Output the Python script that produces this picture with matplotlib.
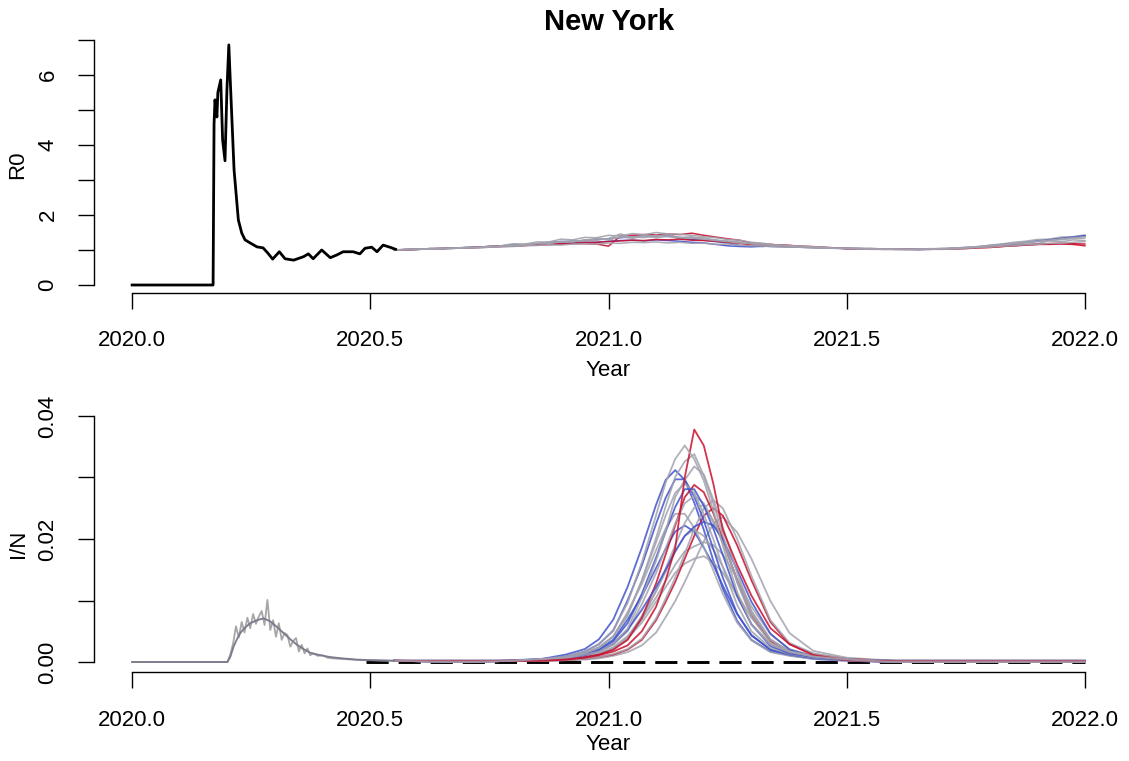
import matplotlib
matplotlib.use("Agg")
import matplotlib.pyplot as plt

plt.rcParams['font.family'] = ['Liberation Sans', 'DejaVu Sans']

# ---------------- data ----------------
title = "New York"
x_ticks = [2020.0, 2020.5, 2021.0, 2021.5, 2022.0]
x_tick_labels = ["2020.0", "2020.5", "2021.0", "2021.5", "2022.0"]
r0_ticks = [0, 1, 2, 3, 4, 5, 6, 7]
r0_tick_labels = ["0", "", "2", "", "4", "", "6", ""]
in_ticks = [0.0, 0.01, 0.02, 0.03, 0.04]
in_tick_labels = ["0.00", "", "0.02", "", "0.04"]

# estimated R0 (black)
r0_years = [2020.000, 2020.170, 2020.172, 2020.174, 2020.178, 2020.180, 2020.186,
            2020.190, 2020.195, 2020.199, 2020.203, 2020.206, 2020.214, 2020.223,
            2020.230, 2020.237, 2020.248, 2020.262, 2020.275, 2020.285, 2020.295,
            2020.309, 2020.321, 2020.339, 2020.360, 2020.370, 2020.380, 2020.398,
            2020.416, 2020.430, 2020.443, 2020.464, 2020.478, 2020.489, 2020.503,
            2020.514, 2020.527, 2020.541, 2020.553]
r0_values = [0.00, 0.00, 4.60, 5.29, 4.80, 5.50, 5.86, 4.14, 3.55, 5.57, 6.86, 5.86,
             3.29, 1.86, 1.49, 1.29, 1.20, 1.09, 1.06, 0.91, 0.74, 0.95, 0.75, 0.71,
             0.81, 0.89, 0.75, 1.00, 0.78, 0.86, 0.95, 0.95, 0.89, 1.05, 1.08, 0.95,
             1.14, 1.08, 1.02]

# projected R0 trajectories
proj_years = [2020.550, 2020.575, 2020.600, 2020.625, 2020.650, 2020.675, 2020.700, 2020.725,
              2020.750, 2020.775, 2020.800, 2020.825, 2020.850, 2020.875, 2020.900, 2020.925,
              2020.950, 2020.975, 2021.000, 2021.025, 2021.050, 2021.075, 2021.100, 2021.125,
              2021.150, 2021.175, 2021.200, 2021.225, 2021.250, 2021.275, 2021.300, 2021.325,
              2021.350, 2021.375, 2021.400, 2021.425, 2021.450, 2021.475, 2021.500, 2021.525,
              2021.550, 2021.575, 2021.600, 2021.625, 2021.650, 2021.675, 2021.700, 2021.725,
              2021.750, 2021.775, 2021.800, 2021.825, 2021.850, 2021.875, 2021.900, 2021.925,
              2021.950, 2021.975, 2022.000]
r0_grey1 = [1.00, 1.02, 1.01, 1.04, 1.05, 1.04, 1.08, 1.07, 1.11, 1.12,
            1.18, 1.17, 1.23, 1.23, 1.31, 1.29, 1.36, 1.35, 1.42, 1.40,
            1.47, 1.44, 1.50, 1.46, 1.45, 1.42, 1.38, 1.35, 1.30, 1.28,
            1.22, 1.19, 1.15, 1.13, 1.11, 1.09, 1.08, 1.06, 1.06, 1.04,
            1.05, 1.03, 1.03, 1.02, 1.03, 1.03, 1.05, 1.05, 1.08, 1.09,
            1.14, 1.17, 1.22, 1.25, 1.30, 1.31, 1.37, 1.38, 1.43]
r0_grey2 = [1.00, 1.01, 1.03, 1.02, 1.05, 1.06, 1.05, 1.09, 1.08, 1.12,
            1.11, 1.17, 1.16, 1.22, 1.21, 1.27, 1.24, 1.33, 1.29, 1.38,
            1.33, 1.40, 1.35, 1.39, 1.33, 1.35, 1.28, 1.29, 1.21, 1.22,
            1.15, 1.16, 1.11, 1.12, 1.08, 1.09, 1.06, 1.06, 1.04, 1.05,
            1.03, 1.03, 1.02, 1.03, 1.01, 1.03, 1.02, 1.05, 1.04, 1.09,
            1.08, 1.15, 1.13, 1.20, 1.18, 1.26, 1.23, 1.29, 1.27]
r0_grey3 = [1.00, 1.02, 1.02, 1.03, 1.04, 1.06, 1.06, 1.07, 1.10, 1.10,
            1.14, 1.15, 1.18, 1.19, 1.25, 1.23, 1.29, 1.28, 1.33, 1.46,
            1.36, 1.42, 1.40, 1.44, 1.36, 1.38, 1.31, 1.27, 1.24, 1.20,
            1.18, 1.15, 1.13, 1.11, 1.10, 1.08, 1.07, 1.05, 1.05, 1.04,
            1.04, 1.02, 1.02, 1.02, 1.02, 1.03, 1.04, 1.04, 1.07, 1.10,
            1.12, 1.16, 1.18, 1.22, 1.25, 1.28, 1.32, 1.35, 1.38]
r0_grey4 = [1.00, 1.01, 1.02, 1.03, 1.03, 1.05, 1.06, 1.06, 1.08, 1.09,
            1.10, 1.12, 1.13, 1.15, 1.14, 1.17, 1.18, 1.17, 1.20, 1.19,
            1.22, 1.21, 1.23, 1.20, 1.22, 1.19, 1.20, 1.16, 1.17, 1.13,
            1.12, 1.11, 1.09, 1.08, 1.08, 1.06, 1.05, 1.05, 1.04, 1.03,
            1.03, 1.02, 1.02, 1.01, 1.02, 1.02, 1.03, 1.03, 1.05, 1.07,
            1.08, 1.11, 1.12, 1.15, 1.16, 1.19, 1.19, 1.22, 1.24]
r0_grey5 = [1.00, 1.01, 1.03, 1.03, 1.05, 1.05, 1.07, 1.08, 1.09, 1.12,
            1.13, 1.14, 1.19, 1.19, 1.23, 1.24, 1.28, 1.33, 1.31, 1.36,
            1.38, 1.35, 1.42, 1.38, 1.36, 1.34, 1.35, 1.28, 1.26, 1.23,
            1.18, 1.16, 1.13, 1.13, 1.09, 1.09, 1.07, 1.05, 1.05, 1.04,
            1.03, 1.03, 1.03, 1.02, 1.02, 1.04, 1.03, 1.06, 1.07, 1.09,
            1.13, 1.14, 1.18, 1.22, 1.24, 1.27, 1.29, 1.33, 1.34]
r0_blue1 = [1.00, 1.01, 1.02, 1.04, 1.04, 1.06, 1.06, 1.08, 1.10, 1.12,
            1.15, 1.14, 1.18, 1.22, 1.24, 1.25, 1.27, 1.30, 1.32, 1.35,
            1.38, 1.41, 1.40, 1.43, 1.33, 1.30, 1.28, 1.24, 1.20, 1.13,
            1.11, 1.10, 1.14, 1.12, 1.10, 1.09, 1.07, 1.06, 1.05, 1.04,
            1.03, 1.03, 1.02, 1.02, 1.02, 1.03, 1.03, 1.05, 1.06, 1.09,
            1.12, 1.16, 1.17, 1.22, 1.26, 1.30, 1.33, 1.37, 1.40]
r0_blue2 = [1.00, 1.01, 1.02, 1.03, 1.04, 1.05, 1.07, 1.08, 1.09, 1.11,
            1.12, 1.14, 1.16, 1.17, 1.19, 1.21, 1.22, 1.22, 1.25, 1.27,
            1.28, 1.26, 1.29, 1.27, 1.25, 1.22, 1.20, 1.16, 1.12, 1.10,
            1.09, 1.11, 1.10, 1.09, 1.08, 1.07, 1.06, 1.05, 1.04, 1.04,
            1.03, 1.03, 1.02, 1.02, 1.01, 1.02, 1.03, 1.04, 1.06, 1.08,
            1.11, 1.15, 1.17, 1.21, 1.25, 1.29, 1.33, 1.37, 1.41]
r0_red1 = [1.00, 1.01, 1.02, 1.03, 1.04, 1.05, 1.06, 1.07, 1.08, 1.10,
           1.11, 1.13, 1.15, 1.15, 1.17, 1.18, 1.18, 1.17, 1.11, 1.40,
           1.42, 1.44, 1.43, 1.46, 1.44, 1.48, 1.42, 1.37, 1.32, 1.28,
           1.20, 1.18, 1.15, 1.14, 1.11, 1.10, 1.08, 1.06, 1.04, 1.03,
           1.02, 1.02, 1.02, 1.02, 1.02, 1.02, 1.02, 1.03, 1.04, 1.06,
           1.07, 1.10, 1.12, 1.14, 1.16, 1.16, 1.17, 1.16, 1.12]
r0_red2 = [1.00, 1.01, 1.02, 1.04, 1.04, 1.06, 1.06, 1.08, 1.10, 1.11,
           1.12, 1.13, 1.15, 1.17, 1.18, 1.19, 1.21, 1.22, 1.24, 1.26,
           1.28, 1.27, 1.30, 1.29, 1.31, 1.28, 1.27, 1.25, 1.22, 1.19,
           1.15, 1.14, 1.12, 1.10, 1.09, 1.08, 1.06, 1.06, 1.04, 1.03,
           1.03, 1.02, 1.02, 1.02, 1.02, 1.02, 1.03, 1.04, 1.05, 1.07,
           1.08, 1.10, 1.12, 1.14, 1.16, 1.18, 1.19, 1.18, 1.17]

# observed (noisy) I/N, first wave
obs_years = [2020.000, 2020.200, 2020.206, 2020.212, 2020.218, 2020.224, 2020.230, 2020.236,
             2020.242, 2020.248, 2020.254, 2020.260, 2020.266, 2020.272, 2020.278, 2020.284,
             2020.290, 2020.296, 2020.302, 2020.308, 2020.314, 2020.320, 2020.326, 2020.332,
             2020.338, 2020.344, 2020.350, 2020.356, 2020.362, 2020.368, 2020.374, 2020.380,
             2020.390, 2020.400, 2020.410, 2020.420, 2020.440, 2020.460, 2020.480, 2020.500,
             2020.550]
obs_values = [0.0000, 0.0000, 0.0012, 0.0030, 0.0058, 0.0040, 0.0065, 0.0048, 0.0072, 0.0055,
              0.0078, 0.0062, 0.0074, 0.0083, 0.0060, 0.0101, 0.0052, 0.0068, 0.0041, 0.0063,
              0.0036, 0.0047, 0.0044, 0.0025, 0.0034, 0.0039, 0.0017, 0.0028, 0.0014, 0.0022,
              0.0011, 0.0014, 0.0010, 0.0011, 0.0007, 0.0006, 0.0005, 0.0004, 0.0003, 0.0003,
              0.0002]

# fitted I/N, first wave
fit_years = [2020.000, 2020.200, 2020.206, 2020.213, 2020.220, 2020.227, 2020.237, 2020.248,
             2020.262, 2020.276, 2020.290, 2020.304, 2020.318, 2020.332, 2020.346, 2020.360,
             2020.374, 2020.395, 2020.416, 2020.440, 2020.470, 2020.500, 2020.550]
fit_values = [0.0000, 0.0000, 0.0008, 0.0025, 0.0037, 0.0047, 0.0056, 0.0063, 0.0068, 0.0071,
              0.0066, 0.0057, 0.0047, 0.0037, 0.0028, 0.0021, 0.0015, 0.0011, 0.0008, 0.0006,
              0.0004, 0.0003, 0.0002]

# baseline scenario (dashed)
base_years = [2020.49, 2022.0]
base_values = [0.0, 0.0]

# projected I/N trajectories
sim_years = [2020.55, 2020.70, 2020.80, 2020.86, 2020.91, 2020.95, 2020.98, 2021.01, 2021.04,
             2021.07, 2021.10, 2021.12, 2021.14, 2021.16, 2021.18, 2021.20, 2021.22, 2021.24,
             2021.27, 2021.30, 2021.34, 2021.38, 2021.43, 2021.50, 2021.60, 2022.00]
in_blue1 = [0.0002, 0.0000, 0.0003, 0.0005, 0.0012, 0.0021, 0.0037, 0.0069, 0.0122, 0.0186, 0.0256, 0.0296, 0.0312,
            0.0296, 0.0259, 0.0215, 0.0165, 0.0119, 0.0067, 0.0036, 0.0017, 0.0011, 0.0005, 0.0002, 0.0000, 0.0000]
in_blue2 = [0.0002, 0.0002, 0.0002, 0.0005, 0.0009, 0.0017, 0.0029, 0.0051, 0.0100, 0.0157, 0.0225, 0.0267, 0.0297,
            0.0297, 0.0269, 0.0230, 0.0184, 0.0137, 0.0079, 0.0043, 0.0020, 0.0012, 0.0006, 0.0003, 0.0002, 0.0002]
in_blue3 = [0.0002, 0.0000, 0.0002, 0.0003, 0.0006, 0.0012, 0.0019, 0.0034, 0.0063, 0.0111, 0.0170, 0.0212, 0.0252,
            0.0281, 0.0281, 0.0254, 0.0217, 0.0174, 0.0108, 0.0061, 0.0026, 0.0014, 0.0008, 0.0003, 0.0000, 0.0000]
in_blue4 = [0.0002, 0.0001, 0.0002, 0.0004, 0.0007, 0.0012, 0.0021, 0.0036, 0.0069, 0.0107, 0.0153, 0.0184, 0.0212,
            0.0222, 0.0212, 0.0186, 0.0158, 0.0124, 0.0078, 0.0044, 0.0020, 0.0011, 0.0006, 0.0003, 0.0001, 0.0001]
in_blue5 = [0.0002, 0.0002, 0.0002, 0.0003, 0.0006, 0.0011, 0.0018, 0.0030, 0.0052, 0.0085, 0.0122, 0.0150, 0.0180,
            0.0205, 0.0220, 0.0228, 0.0222, 0.0200, 0.0150, 0.0098, 0.0046, 0.0020, 0.0009, 0.0004, 0.0002, 0.0002]
in_red1 = [0.0002, 0.0001, 0.0002, 0.0002, 0.0004, 0.0007, 0.0011, 0.0017, 0.0027, 0.0050, 0.0090, 0.0133, 0.0185,
           0.0300, 0.0378, 0.0352, 0.0290, 0.0215, 0.0158, 0.0108, 0.0055, 0.0029, 0.0011, 0.0003, 0.0001, 0.0001]
in_red2 = [0.0002, 0.0000, 0.0002, 0.0003, 0.0004, 0.0008, 0.0012, 0.0020, 0.0036, 0.0072, 0.0128, 0.0175, 0.0222,
           0.0268, 0.0288, 0.0276, 0.0242, 0.0200, 0.0132, 0.0076, 0.0034, 0.0016, 0.0009, 0.0003, 0.0000, 0.0000]
in_red3 = [0.0002, 0.0002, 0.0002, 0.0002, 0.0003, 0.0005, 0.0008, 0.0012, 0.0020, 0.0036, 0.0068, 0.0098, 0.0130,
           0.0168, 0.0205, 0.0238, 0.0250, 0.0238, 0.0190, 0.0133, 0.0065, 0.0029, 0.0013, 0.0005, 0.0002, 0.0002]
in_grey1 = [0.0002, 0.0000, 0.0002, 0.0005, 0.0009, 0.0017, 0.0029, 0.0052, 0.0096, 0.0162, 0.0239, 0.0292, 0.0330,
            0.0352, 0.0330, 0.0295, 0.0246, 0.0189, 0.0114, 0.0061, 0.0028, 0.0016, 0.0009, 0.0004, 0.0000, 0.0000]
in_grey2 = [0.0002, 0.0002, 0.0002, 0.0004, 0.0007, 0.0015, 0.0023, 0.0041, 0.0075, 0.0133, 0.0202, 0.0253, 0.0301,
            0.0326, 0.0338, 0.0303, 0.0258, 0.0207, 0.0129, 0.0073, 0.0031, 0.0017, 0.0009, 0.0004, 0.0002, 0.0002]
in_grey3 = [0.0002, 0.0000, 0.0002, 0.0003, 0.0006, 0.0012, 0.0017, 0.0030, 0.0054, 0.0105, 0.0165, 0.0213, 0.0268,
            0.0296, 0.0318, 0.0305, 0.0264, 0.0219, 0.0145, 0.0083, 0.0037, 0.0017, 0.0010, 0.0004, 0.0000, 0.0000]
in_grey4 = [0.0002, 0.0001, 0.0002, 0.0004, 0.0007, 0.0014, 0.0024, 0.0042, 0.0078, 0.0132, 0.0195, 0.0238, 0.0275,
            0.0290, 0.0275, 0.0240, 0.0200, 0.0154, 0.0093, 0.0050, 0.0023, 0.0013, 0.0007, 0.0003, 0.0001, 0.0001]
in_grey5 = [0.0002, 0.0000, 0.0002, 0.0003, 0.0006, 0.0011, 0.0016, 0.0028, 0.0050, 0.0094, 0.0145, 0.0185, 0.0225,
            0.0258, 0.0270, 0.0258, 0.0230, 0.0195, 0.0133, 0.0078, 0.0036, 0.0017, 0.0009, 0.0004, 0.0000, 0.0000]
in_grey6 = [0.0002, 0.0002, 0.0002, 0.0003, 0.0004, 0.0008, 0.0012, 0.0021, 0.0037, 0.0069, 0.0116, 0.0152, 0.0190,
            0.0226, 0.0251, 0.0255, 0.0227, 0.0194, 0.0135, 0.0082, 0.0036, 0.0017, 0.0009, 0.0004, 0.0002, 0.0002]
in_grey7 = [0.0002, 0.0000, 0.0002, 0.0002, 0.0003, 0.0005, 0.0008, 0.0013, 0.0021, 0.0038, 0.0071, 0.0103, 0.0137,
            0.0176, 0.0216, 0.0250, 0.0263, 0.0250, 0.0200, 0.0140, 0.0068, 0.0031, 0.0014, 0.0005, 0.0000, 0.0000]
in_grey8 = [0.0002, 0.0001, 0.0002, 0.0002, 0.0003, 0.0004, 0.0006, 0.0010, 0.0016, 0.0027, 0.0048, 0.0073, 0.0099,
            0.0130, 0.0163, 0.0196, 0.0225, 0.0236, 0.0211, 0.0168, 0.0099, 0.0047, 0.0018, 0.0007, 0.0002, 0.0001]
in_grey9 = [0.0002, 0.0000, 0.0002, 0.0003, 0.0005, 0.0009, 0.0014, 0.0024, 0.0042, 0.0070, 0.0105, 0.0132, 0.0158,
            0.0180, 0.0188, 0.0195, 0.0190, 0.0175, 0.0135, 0.0090, 0.0045, 0.0021, 0.0010, 0.0004, 0.0000, 0.0000]
in_grey10 = [0.0002, 0.0002, 0.0002, 0.0003, 0.0005, 0.0008, 0.0013, 0.0022, 0.0038, 0.0064, 0.0098, 0.0122, 0.0145,
             0.0160, 0.0168, 0.0172, 0.0162, 0.0145, 0.0110, 0.0072, 0.0036, 0.0017, 0.0008, 0.0003, 0.0002, 0.0002]
in_grey11 = [0.0002, 0.0000, 0.0002, 0.0004, 0.0007, 0.0014, 0.0024, 0.0041, 0.0081, 0.0127, 0.0182, 0.0217, 0.0241,
             0.0241, 0.0218, 0.0187, 0.0149, 0.0111, 0.0064, 0.0035, 0.0016, 0.0010, 0.0005, 0.0002, 0.0000, 0.0000]
in_grey12 = [0.0002, 0.0001, 0.0002, 0.0002, 0.0005, 0.0009, 0.0013, 0.0022, 0.0040, 0.0075, 0.0115, 0.0147, 0.0179,
             0.0205, 0.0215, 0.0205, 0.0183, 0.0155, 0.0106, 0.0062, 0.0029, 0.0014, 0.0007, 0.0003, 0.0001, 0.0001]

# ---------------- style ----------------
GREY = '#A2A2AE'
BLUE = '#3F52CC'
RED = '#C8102E'
FS = 16

fig = plt.figure(figsize=(11.29, 7.61), dpi=100)
ax1 = fig.add_axes([94 / 1129, 1 - 293 / 761, 1029 / 1129, 257 / 761])
ax2 = fig.add_axes([94 / 1129, 1 - 672 / 761, 1029 / 1129, 257 / 761])

# top panel
top_series = [(r0_blue1, BLUE), (r0_red1, RED), (r0_grey1, GREY), (r0_blue2, BLUE),
              (r0_grey2, GREY), (r0_red2, RED), (r0_grey3, GREY), (r0_grey4, GREY),
              (r0_grey5, GREY)]
for vals, col in top_series:
    ax1.plot(proj_years, vals, color=col, lw=1.1, alpha=0.9, solid_joinstyle='round')
ax1.plot(r0_years, r0_values, color='black', lw=2.0, solid_joinstyle='round')

# bottom panel
ax2.plot(base_years, base_values, color='black', lw=2.1, dashes=(7.6, 3.4), zorder=1)
bottom_series = [(in_grey8, GREY), (in_blue1, BLUE), (in_grey9, GREY), (in_grey10, GREY),
                 (in_red3, RED), (in_grey12, GREY), (in_blue4, BLUE), (in_grey11, GREY),
                 (in_grey7, GREY), (in_blue2, BLUE), (in_grey6, GREY), (in_red2, RED),
                 (in_grey5, GREY), (in_blue5, BLUE), (in_grey4, GREY), (in_blue3, BLUE),
                 (in_grey3, GREY), (in_grey2, GREY), (in_red1, RED), (in_grey1, GREY)]
for vals, col in bottom_series:
    ax2.plot(sim_years, vals, color=col, lw=1.3, alpha=0.85, zorder=2,
             solid_joinstyle='round')
ax2.plot(obs_years, obs_values, color='#A6A6A6', lw=1.3, zorder=3)
ax2.plot(fit_years, fit_values, color='#7A7A8C', lw=1.3, zorder=4)

for ax in (ax1, ax2):
    ax.set_xlim(2019.92, 2022.08)
    ax.set_xticks(x_ticks)
    ax.set_xticklabels(x_tick_labels)
    for s in ('top', 'right'):
        ax.spines[s].set_visible(False)
    for s in ('left', 'bottom'):
        ax.spines[s].set_linewidth(1.0)
    ax.spines['bottom'].set_bounds(2020.0, 2022.0)
    ax.tick_params(axis='both', direction='out', length=11.5, width=1.0,
                   labelsize=FS, colors='black')
    ax.tick_params(axis='x', pad=15.5)
    ax.tick_params(axis='y', pad=14, labelrotation=90)

ax1.set_ylim(-8 / 35, 249 / 35)
ax1.set_yticks(r0_ticks)
ax1.set_yticklabels(r0_tick_labels)
ax1.spines['left'].set_bounds(0, 7)

ax2.set_ylim(-10 / 6150, 247 / 6150)
ax2.set_yticks(in_ticks)
ax2.set_yticklabels(in_tick_labels)
ax2.spines['left'].set_bounds(0, 0.04)

for ax in (ax1, ax2):
    for lbl in ax.get_yticklabels():
        lbl.set_verticalalignment('center')

fig.text(608.5 / 1129, 1 - 22 / 761, title, ha='center', va='center',
         fontsize=21, fontweight='bold')
fig.text(18 / 1129, 1 - 164.5 / 761, "R0", rotation=90, ha='center', va='center', fontsize=FS)
fig.text(18 / 1129, 1 - 543.5 / 761, "I/N", rotation=90, ha='center', va='center', fontsize=FS)
fig.text(608.5 / 1129, 1 - 370 / 761, "Year", ha='center', va='center', fontsize=FS)
fig.text(608.5 / 1129, 1 - 745 / 761, "Year", ha='center', va='center', fontsize=FS)

fig.savefig("out.png", dpi=100)
